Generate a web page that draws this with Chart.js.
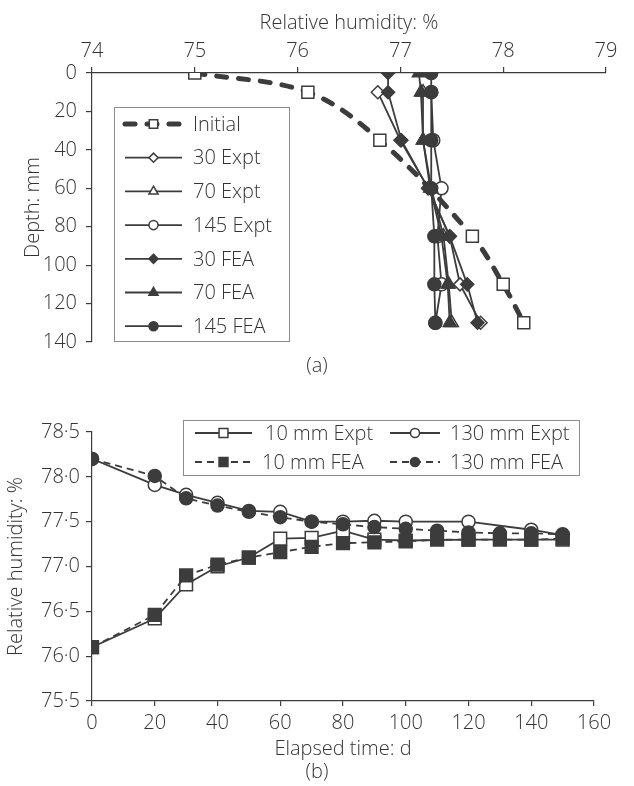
<!DOCTYPE html>
<html>
<head>
<meta charset="utf-8">
<script src="https://cdn.jsdelivr.net/npm/chart.js@4.4.1/dist/chart.umd.min.js"></script>
<style>
  html, body { margin: 0; padding: 0; background: #fff; }
  body { width: 634px; height: 786px; position: relative; overflow: hidden; font-family: "Open Sans", sans-serif; font-weight: 300; color: #333; }
  .box { position: absolute; left: 0; width: 634px; }
  #topBox { top: 0; height: 390px; }
  #botBox { top: 390px; height: 396px; }
  .cap { position: absolute; left: 0; width: 634px; text-align: center; font-size: 20px; line-height: 26px; }
</style>
</head>
<body>
<div class="box" id="topBox"><canvas id="depthChart"></canvas></div>
<div class="cap" style="top:352px">(a)</div>
<div class="box" id="botBox"><canvas id="timeChart"></canvas></div>
<div class="cap" style="top:758px">(b)</div>
<script>
// (a) humidity profiles against depth
const depthInitial = [0, 10, 35, 85, 110, 130];
const depthExpt = [10, 35, 60, 85, 110, 130];
const depthFea = [0, 10, 35, 60, 85, 110, 130];
const rhInitial = [75.0, 76.1, 76.8, 77.7, 78.0, 78.2];
const rh30Expt = [76.78, 77.0, 77.27, 77.48, 77.58, 77.78];
const rh70Expt = [77.22, 77.22, 77.3, 77.42, 77.47, 77.5];
const rh145Expt = [77.3, 77.32, 77.4, 77.36, 77.4, 77.34];
const rh30Fea = [76.88, 76.88, 77.01, 77.27, 77.48, 77.65, 77.75];
const rh70Fea = [77.18, 77.2, 77.22, 77.29, 77.4, 77.46, 77.48];
const rh145Fea = [77.3, 77.3, 77.3, 77.3, 77.33, 77.33, 77.34];

// (b) humidity against elapsed time
const daysExpt = [0, 20, 30, 40, 50, 60, 70, 80, 90, 100, 120, 140, 150];
const daysFea = [0, 20, 30, 40, 50, 60, 70, 80, 90, 100, 110, 120, 130, 140, 150];
const rh10Expt = [76.1, 76.42, 76.8, 77.0, 77.1, 77.31, 77.32, 77.4, 77.3, 77.29, 77.3, 77.3, 77.3];
const rh130Expt = [78.2, 77.91, 77.8, 77.71, 77.62, 77.61, 77.5, 77.5, 77.51, 77.5, 77.5, 77.41, 77.35];
const rh10Fea = [76.1, 76.46, 76.9, 77.02, 77.1, 77.16, 77.22, 77.26, 77.27, 77.28, 77.3, 77.3, 77.3, 77.3, 77.31];
const rh130Fea = [78.2, 78.01, 77.76, 77.68, 77.61, 77.55, 77.5, 77.47, 77.44, 77.42, 77.4, 77.38, 77.37, 77.37, 77.36];

const FONT = '"Open Sans", sans-serif';
const TEXT = "#333333";
const INK = "#3c3c3c";
const FSIZE = 20;
const FWEIGHT = 300;

Chart.defaults.font.family = FONT;
Chart.defaults.font.size = FSIZE;
Chart.defaults.font.weight = FWEIGHT;
Chart.defaults.color = TEXT;

function pts(xs, ys) {
  return xs.map((x, i) => ({ x, y: ys[i] }));
}

function series(label, data, style, open, dashed, order) {
  return {
    label,
    data,
    showLine: true,
    borderColor: INK,
    borderWidth: 1.8,
    borderDash: dashed ? [7, 5] : [],
    pointStyle: style,
    pointRadius: style === "rect" ? 9 : style === "triangle" ? 7.5 : 6.5,
    pointBackgroundColor: open ? "#ffffff" : INK,
    pointBorderColor: INK,
    pointBorderWidth: 1.5,
    order,
  };
}

// legend drawn inside the plot, boxed like the original
const boxLegend = {
  id: "boxLegend",
  afterDraw(chart, args, opts) {
    const ctx = chart.ctx;
    const [bx, by, bw, bh] = opts.box;
    ctx.save();
    ctx.strokeStyle = "#8c8c8c";
    ctx.lineWidth = 1;
    ctx.strokeRect(bx + 0.5, by + 0.5, bw, bh);
    opts.items.forEach((it) => {
      const ds = chart.data.datasets[it.ds];
      ctx.save();
      ctx.strokeStyle = ds.borderColor;
      ctx.lineWidth = ds.borderWidth;
      ctx.setLineDash(ds.borderDash || []);
      ctx.lineCap = ds.borderCapStyle || "butt";
      ctx.beginPath();
      ctx.moveTo(it.x, it.y);
      ctx.lineTo(it.x + it.len, it.y);
      ctx.stroke();
      ctx.restore();
      ctx.save();
      ctx.fillStyle = ds.pointBackgroundColor;
      ctx.strokeStyle = ds.pointBorderColor;
      ctx.lineWidth = ds.pointBorderWidth;
      Chart.helpers.drawPoint(ctx, {
        pointStyle: ds.pointStyle,
        radius: ds.pointRadius * 0.7,
        rotation: 0,
        borderWidth: ds.pointBorderWidth,
      }, it.x + it.len / 2, it.y);
      ctx.restore();
      ctx.fillStyle = TEXT;
      ctx.font = `${FWEIGHT} ${FSIZE}px ${FONT}`;
      ctx.textBaseline = "middle";
      ctx.fillText(ds.label, it.tx, it.y + 1);
    });
    ctx.restore();
  },
};

function axisBase(extra) {
  return Object.assign({
    type: "linear",
    grid: { display: true, drawOnChartArea: false, drawTicks: true, tickLength: 6, color: INK, lineWidth: 1.2 },
    border: { display: true, color: INK, width: 1.2 },
  }, extra);
}

const commonPlugins = { legend: { display: false }, tooltip: { enabled: false } };

// ---------- chart (a)
const depthSets = [
  Object.assign(series("Initial", pts(rhInitial, depthInitial), "rect", true, false, 3), {
    borderWidth: 5,
    borderDash: [10, 12],
    borderCapStyle: "round",
    tension: 0.35,
    pointRadius: 8.5,
  }),
  series("30 Expt", pts(rh30Expt, depthExpt), "rectRot", true, false, 2),
  series("70 Expt", pts(rh70Expt, depthExpt), "triangle", true, false, 2),
  series("145 Expt", pts(rh145Expt, depthExpt), "circle", true, false, 2),
  series("30 FEA", pts(rh30Fea, depthFea), "rectRot", false, false, 1),
  series("70 FEA", pts(rh70Fea, depthFea), "triangle", false, false, 1),
  series("145 FEA", pts(rh145Fea, depthFea), "circle", false, false, 1),
];

new Chart(document.getElementById("depthChart"), {
  type: "scatter",
  data: { datasets: depthSets },
  plugins: [boxLegend],
  options: {
    responsive: true,
    maintainAspectRatio: false,
    animation: false,
    layout: { padding: { top: 0, left: 0, right: 28, bottom: 48 } },
    scales: {
      x: axisBase({
        position: "top",
        min: 74,
        max: 79,
        ticks: { stepSize: 1, padding: 4, maxRotation: 0 },
        title: { display: true, text: "Relative humidity: %", padding: { top: 11, bottom: 0 } },
        afterFit(scale) { scale.height = 73; },
      }),
      y: axisBase({
        reverse: true,
        min: 0,
        max: 140,
        ticks: { stepSize: 20, padding: 9 },
        title: { display: true, text: "Depth: mm", padding: { top: 21, bottom: 0 } },
        afterFit(scale) { scale.width = 92; },
      }),
    },
    plugins: Object.assign({}, commonPlugins, {
      boxLegend: {
        box: [114, 107, 175, 234],
        items: depthSets.map((d, i) => ({ ds: i, x: 125, len: 57, tx: 193, y: 124 + i * 33.7 })),
      },
    }),
  },
});

// ---------- chart (b)
const timeSets = [
  series("10 mm Expt", pts(daysExpt, rh10Expt), "rect", true, false, 2),
  series("130 mm Expt", pts(daysExpt, rh130Expt), "circle", true, false, 2),
  series("10 mm FEA", pts(daysFea, rh10Fea), "rect", false, true, 1),
  series("130 mm FEA", pts(daysFea, rh130Fea), "circle", false, true, 1),
];

new Chart(document.getElementById("timeChart"), {
  type: "scatter",
  data: { datasets: timeSets },
  plugins: [boxLegend],
  options: {
    responsive: true,
    maintainAspectRatio: false,
    animation: false,
    layout: { padding: { top: 42, left: 0, right: 40, bottom: 25 } },
    scales: {
      x: axisBase({
        position: "bottom",
        min: 0,
        max: 160,
        ticks: { stepSize: 20, padding: 5, maxRotation: 0 },
        grid: { display: true, drawOnChartArea: false, drawTicks: true, tickLength: 5, color: INK, lineWidth: 1.2 },
        title: { display: true, text: "Elapsed time: d", padding: { top: 0, bottom: 0 } },
        afterFit(scale) { scale.height = 60; },
      }),
      y: axisBase({
        min: 75.5,
        max: 78.5,
        ticks: {
          stepSize: 0.5,
          padding: 6,
          callback: (v) => v.toFixed(1).replace(".", "\u00b7"),
        },
        title: { display: true, text: "Relative humidity: %", padding: { top: 4, bottom: 0 } },
        afterFit(scale) { scale.width = 92; },
      }),
    },
    plugins: Object.assign({}, commonPlugins, {
      boxLegend: {
        box: [183, 30, 396, 55],
        items: [
          { ds: 0, x: 195, len: 57, tx: 265, y: 43 },
          { ds: 1, x: 390, len: 50, tx: 450, y: 43 },
          { ds: 2, x: 195, len: 57, tx: 262, y: 72 },
          { ds: 3, x: 390, len: 50, tx: 450, y: 72 },
        ],
      },
    }),
  },
});
</script>
</body>
</html>
